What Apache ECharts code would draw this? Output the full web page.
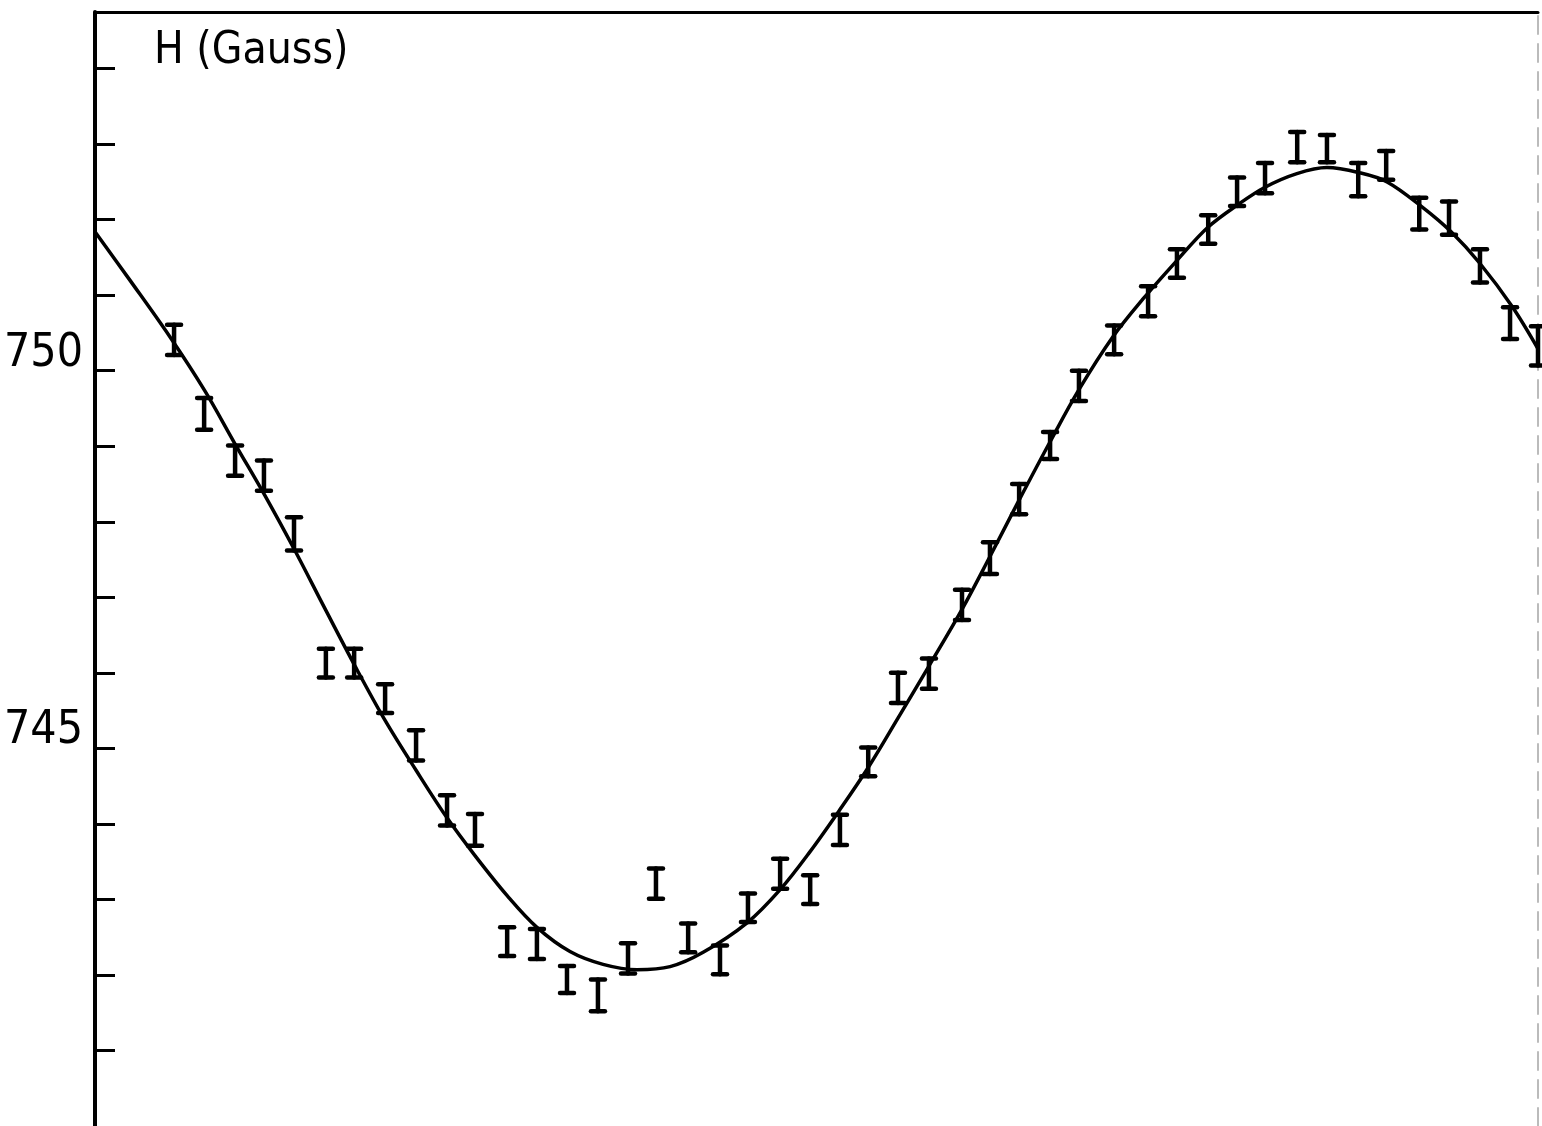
<!DOCTYPE html>
<html>
<head>
<meta charset="utf-8">
<style>
  html, body { margin: 0; padding: 0; background: #fff; }
  #chart { width: 1542px; height: 1126px; }
</style>
<script src="https://cdn.jsdelivr.net/npm/echarts@6/dist/echarts.min.js"></script>
</head>
<body>
<div id="chart"></div>
<script>
// Measured points (x in arbitrary position units along the horizontal axis, H in Gauss)
const pointX = [2.63, 3.63, 4.66, 5.62, 6.62, 7.68, 8.62, 9.65, 10.68, 11.71,
  12.64, 13.71, 14.70, 15.70, 16.73, 17.73, 18.66, 19.73, 20.79, 21.72,
  22.79, 23.79, 24.78, 25.72, 26.71, 27.74, 28.84, 29.77, 30.74, 31.77,
  32.73, 33.90, 35.03, 35.99, 37.03, 37.99, 38.92, 39.99, 40.98, 42.02,
  42.95, 44.05, 45.04, 46.07, 47.07, 48.00];
const pointH = [750.41, 749.43, 748.81, 748.61, 747.84, 746.13, 746.13, 745.66, 745.04, 744.18,
  743.92, 742.44, 742.41, 741.94, 741.73, 742.22, 743.21, 742.49, 742.20, 742.89,
  743.34, 743.13, 743.92, 744.82, 745.80, 745.99, 746.90, 747.52, 748.30, 749.01,
  749.80, 750.41, 750.92, 751.42, 751.87, 752.37, 752.55, 752.96, 752.94, 752.53,
  752.72, 752.08, 752.02, 751.39, 750.63, 750.33];
const pointErr = [0.20, 0.21, 0.20, 0.20, 0.22, 0.19, 0.19, 0.19, 0.20, 0.20,
  0.21, 0.19, 0.20, 0.18, 0.21, 0.20, 0.20, 0.19, 0.19, 0.19,
  0.20, 0.19, 0.20, 0.19, 0.20, 0.20, 0.20, 0.21, 0.20, 0.18,
  0.20, 0.19, 0.20, 0.19, 0.19, 0.19, 0.20, 0.20, 0.18, 0.22,
  0.19, 0.21, 0.22, 0.22, 0.21, 0.26];

// Fitted curve
const curveX = [0, 1.16, 2.49, 3.66, 4.66, 5.65, 6.65, 7.65, 8.65, 9.65,
  10.68, 11.71, 12.64, 13.71, 14.70, 15.80, 16.90, 18.03, 19.13, 20.23,
  21.69, 22.79, 23.78, 24.78, 25.71, 26.71, 27.74, 28.84, 29.77, 30.73,
  31.77, 32.73, 33.86, 34.86, 35.99, 37.02, 38.02, 38.92, 39.98, 40.98,
  42.08, 42.98, 44.14, 45.11, 46.07, 47.14, 48.00];
const curveH = [751.84, 751.20, 750.45, 749.73, 749.03, 748.35, 747.62, 746.85, 746.09, 745.37,
  744.71, 744.08, 743.58, 743.05, 742.63, 742.31, 742.14, 742.07, 742.11, 742.30,
  742.69, 743.13, 743.63, 744.19, 744.74, 745.40, 746.09, 746.84, 747.54, 748.28,
  749.06, 749.75, 750.45, 750.95, 751.46, 751.90, 752.20, 752.43, 752.61, 752.69,
  752.62, 752.50, 752.17, 751.84, 751.42, 750.85, 750.29];

// Axis ticks and labels
const yTicks = [741, 742, 743, 744, 745, 746, 747, 748, 749, 750, 751, 752, 753, 754];
const yLabels = [745, 750];
const yTitle = 'H (Gauss)';

const errData = pointX.map((x, i) => [x, pointH[i] - pointErr[i], pointH[i] + pointErr[i]]);
const curveData = curveX.map((x, i) => [x, curveH[i]]);

const chart = echarts.init(document.getElementById('chart'));
chart.setOption({
  animation: false,
  backgroundColor: '#fff',
  title: {
    text: yTitle,
    left: 149,
    top: 25,
    textStyle: {
      fontFamily: "'Liberation Sans Narrow', 'DejaVu Sans Condensed', sans-serif",
      fontSize: 44,
      fontWeight: 'normal',
      color: '#000'
    }
  },
  grid: { left: 95, right: 4, top: 12, height: 1117 },
  xAxis: {
    type: 'value',
    min: 0,
    max: 48,
    position: 'top',
    axisLine: { show: true, lineStyle: { color: '#000', width: 3 } },
    axisTick: { show: false },
    axisLabel: { show: false },
    splitLine: { show: false }
  },
  yAxis: [{
    type: 'value',
    min: 740,
    max: 754.75,
    position: 'left',
    axisLine: { show: true, lineStyle: { color: '#000', width: 4 } },
    axisTick: {
      show: true, inside: true, length: 20,
      customValues: yTicks,
      lineStyle: { color: '#000', width: 3 }
    },
    axisLabel: {
      customValues: yLabels,
      inside: false,
      margin: 12,
      fontFamily: "'Liberation Sans Narrow', 'DejaVu Sans Condensed', sans-serif",
      fontSize: 46,
      color: '#000',
      verticalAlign: 'bottom',
      lineHeight: 34
    },
    splitLine: { show: false }
  }, {
    type: 'value',
    min: 740,
    max: 754.75,
    position: 'right',
    axisLine: { show: true, lineStyle: { color: '#bbb', width: 2, type: [18, 10] } },
    axisTick: { show: false },
    axisLabel: { show: false },
    splitLine: { show: false }
  }],
  series: [{
    type: 'line',
    data: curveData,
    smooth: 0.35,
    showSymbol: false,
    lineStyle: { color: '#000', width: 3.5 },
    z: 2
  }, {
    type: 'custom',
    data: errData,
    clip: false,
    z: 3,
    renderItem: function (params, api) {
      const x = api.value(0);
      const top = api.coord([x, api.value(2)]);
      const bot = api.coord([x, api.value(1)]);
      const cw = 7;
      const st = { stroke: '#000', lineWidth: 4.5, lineCap: 'round' };
      return {
        type: 'group',
        children: [
          { type: 'line', shape: { x1: top[0], y1: top[1], x2: bot[0], y2: bot[1] }, style: st },
          { type: 'line', shape: { x1: top[0] - cw, y1: top[1], x2: top[0] + cw, y2: top[1] }, style: st },
          { type: 'line', shape: { x1: bot[0] - cw, y1: bot[1], x2: bot[0] + cw, y2: bot[1] }, style: st }
        ]
      };
    }
  }]
});
</script>
</body>
</html>
